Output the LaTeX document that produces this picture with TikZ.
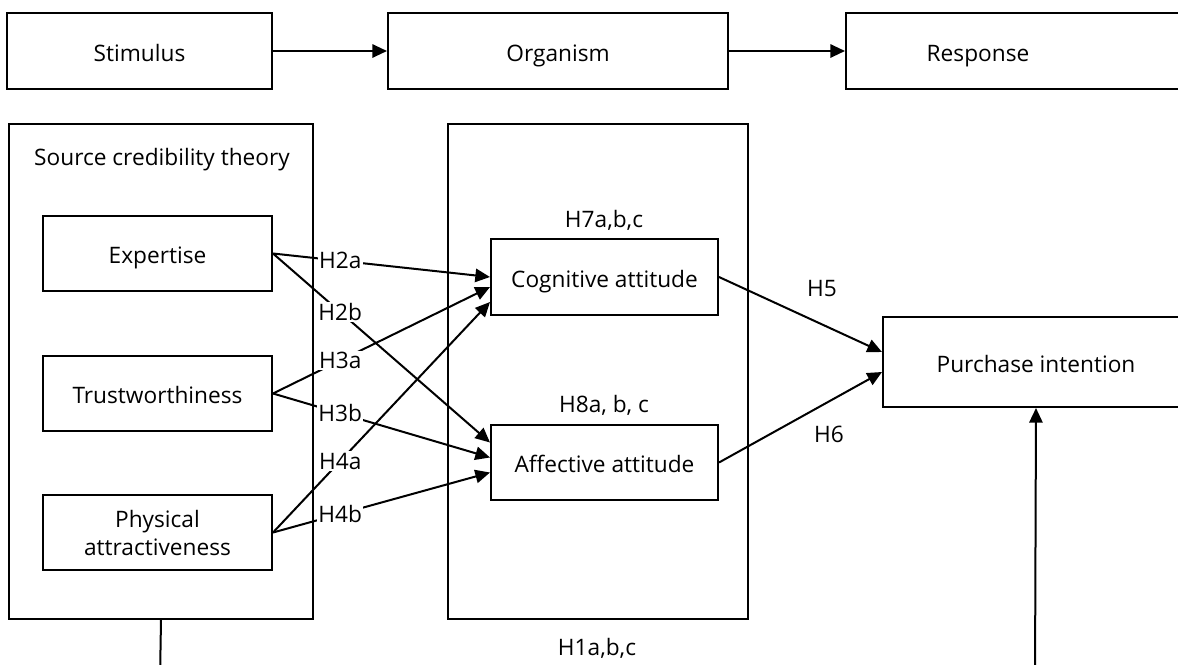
\documentclass[tikz,border=0pt]{standalone}
\usepackage{fontspec}
\setmainfont{Open Sans}
\usetikzlibrary{arrows.meta,calc}
\newdimen\px
\px=0.75pt
\begin{document}
\begin{tikzpicture}[x=0.75pt,y=-0.75pt,
  box/.style={draw,line width=1.5pt,inner sep=0pt,align=center},
  one/.style={text height=15pt,text depth=0pt},
  conn/.style={line width=1.5pt,-{Triangle[length=11pt,width=10pt]}},
  hlab/.style={fill=white,inner sep=1pt},
  plab/.style={inner sep=1pt},
  every node/.style={font=\fontsize{17}{21}\selectfont}]
\useasboundingbox (0,0) rectangle (1178,664);
\clip (0,0) rectangle (1178,664);
% top row
\node[box,one,minimum width=265\px,minimum height=76\px] (stim) at (139.5,51) {Stimulus};
\node[box,one,minimum width=340\px,minimum height=76\px] (org) at (558,51) {Organism};
\node[box,minimum width=354\px,minimum height=76\px] (resp) at (1023,51) {};
\node[plab,one] (resptxt) at (978,51) {Response};
\draw[conn] (stim.east) -- (org.west);
\draw[conn] (org.east) -- (resp.west);
% big frames
\node[box,minimum width=304\px,minimum height=495\px] (src) at (161,371.5) {};
\node[plab] (srctxt) at (162,160) {Source credibility theory};
\node[box,minimum width=300\px,minimum height=495\px] (obox) at (598,371.5) {};
% inner boxes
\node[box,one,minimum width=229\px,minimum height=75\px] (exp) at (157.5,253.5) {Expertise};
\node[box,one,minimum width=229\px,minimum height=75\px] (trust) at (157.5,393.5) {Trustworthiness};
\node[box,minimum width=229\px,minimum height=75\px] (phys) at (157.5,532.5) {Physical\\attractiveness};
\node[box,one,minimum width=227\px,minimum height=76\px] (cog) at (604.5,277) {Cognitive attitude};
\node[box,one,minimum width=227\px,minimum height=75\px] (aff) at (604.5,462.5) {Affective attitude};
\node[box,one,minimum width=306\px,minimum height=90\px] (pi) at (1036,362) {Purchase intention};
% labels
\node[plab] (h7) at (604,220) {H7a,b,c};
\node[plab] (h8) at (604,405) {H8a, b, c};
\node[plab] (h5) at (822,289) {H5};
\node[plab] (h6) at (829,434) {H6};
\node[plab] (h1) at (597,648) {H1a,b,c};
% hypothesis arrows
\draw[conn] (exp.east) -- node[hlab,pos=0.31] (h2a) {H2a} (cog.west);
\draw[conn] (exp.east) -- node[hlab,pos=0.31] (h2b) {H2b} ($(aff.west)+(0,-20)$);
\draw[conn] (trust.east) -- node[hlab,pos=0.31] (h3a) {H3a} ($(cog.west)+(0,10)$);
\draw[conn] (trust.east) -- node[hlab,pos=0.31] (h3b) {H3b} ($(aff.west)+(0,-5)$);
\draw[conn] (phys.east) -- node[hlab,pos=0.31] (h4a) {H4a} ($(cog.west)+(0,25)$);
\draw[conn] (phys.east) -- node[hlab,pos=0.31] (h4b) {H4b} ($(aff.west)+(0,10)$);
\draw[conn] (cog.east) -- ($(pi.west)+(0,-10)$);
\draw[conn] (aff.east) -- ($(pi.west)+(0,10)$);
% bottom connectors
\coordinate (bl) at (160,680);
\coordinate (br) at (1035,680);
\draw[line width=1.5pt] (src.south) -- (bl);
\draw[conn] (br) -- (pi.south);
\end{tikzpicture}
\end{document}
